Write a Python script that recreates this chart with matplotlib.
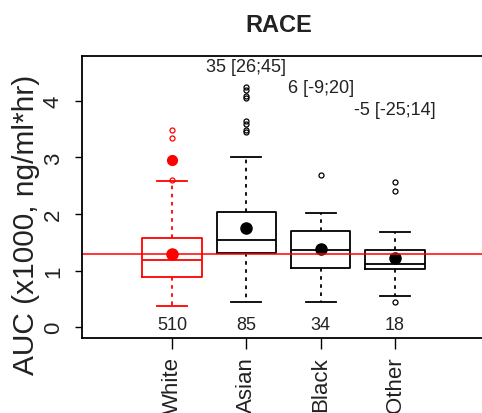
import matplotlib
matplotlib.use("Agg")
import matplotlib.pyplot as plt

plt.rcParams['font.family'] = ['Liberation Sans', 'DejaVu Sans']

# ---- data ----
groups = ["White", "Asian", "Black", "Other"]
counts = [510, 85, 34, 18]
q1 = [0.89, 1.31, 1.05, 1.03]
median = [1.19, 1.54, 1.36, 1.11]
q3 = [1.57, 2.04, 1.70, 1.36]
whisk_lo = [0.38, 0.45, 0.45, 0.55]
whisk_hi = [2.59, 3.00, 2.01, 1.69]
means = [1.29, 1.75, 1.38, 1.22]
outliers = [
    [2.60, 3.34, 3.48],
    [3.44, 3.49, 3.59, 3.64, 4.04, 4.09, 4.19, 4.24],
    [2.68],
    [0.44, 2.40, 2.57],
]
white_dense_out = [2.96]
ref_line = 1.29
diff_labels = ["", "35 [26;45]", "6 [-9;20]", "-5 [-25;14]"]
diff_label_y = [None, 4.60, 4.24, 3.85]
colors = ["red", "black", "black", "black"]
yticks = [0, 1, 2, 3, 4]

fig = plt.figure(figsize=(4.82, 4.14), dpi=100)
ax = fig.add_axes([82 / 482, 75 / 414, 403 / 482, 282 / 414])

positions = list(range(1, len(groups) + 1))
stats = []
for i in range(len(groups)):
    stats.append(dict(med=median[i], q1=q1[i], q3=q3[i], whislo=whisk_lo[i],
                      whishi=whisk_hi[i], fliers=[], mean=means[i], label=groups[i]))

for i, p in enumerate(positions):
    c = colors[i]
    ax.bxp([stats[i]], positions=[p], widths=0.8, showfliers=False, showmeans=False,
           patch_artist=False, manage_ticks=False,
           boxprops=dict(color=c, linewidth=1.3),
           medianprops=dict(color=c, linewidth=1.3),
           whiskerprops=dict(color=c, linewidth=1.3, linestyle=(0, (2, 2.5))),
           capprops=dict(color=c, linewidth=1.3),
           capwidths=0.4)
    ax.plot([p] * len(outliers[i]), outliers[i], linestyle='none', marker='o',
            markersize=3.6, markerfacecolor='none', markeredgecolor=c,
            markeredgewidth=0.9)
    ax.plot([p], [means[i]], linestyle='none', marker='o', markersize=8,
            color=c)
    ax.text(p, 0.05, str(counts[i]), ha='center', va='center', fontsize=13,
            color='#222222')
    if diff_labels[i]:
        ax.text(p, diff_label_y[i], diff_labels[i], ha='center', va='center',
                fontsize=13, color='#222222')

ax.plot([1] * len(white_dense_out), white_dense_out, linestyle='none', marker='o',
        markersize=7, color='red')

ax.axhline(ref_line, color='red', linewidth=1.1)

ax.set_xlim(-0.21, 5.21)
ax.set_ylim(-0.19, 4.79)
ax.set_xticks(positions)
ax.set_xticklabels(groups, rotation=90, fontsize=16, color='#222222')
ax.set_yticks(yticks)
ax.set_yticklabels([str(v) for v in yticks], rotation=90, fontsize=16,
                   color='#222222', va='center')
ax.tick_params(axis='y', length=5, width=1, pad=8)
ax.tick_params(axis='x', length=8, width=1, pad=5)
for s in ax.spines.values():
    s.set_linewidth(1.3)
    s.set_color('black')

fig.text(26 / 482, 1 - 225 / 414, "AUC (x1000, ng/ml*hr)", rotation=90,
         ha='center', va='center', fontsize=21.5, color='#222222')
fig.text(278.5 / 482, 1 - 26 / 414, "RACE", ha='center', va='center',
         fontsize=17, fontweight='bold', color='#222222')

fig.savefig("out.png", dpi=100)
